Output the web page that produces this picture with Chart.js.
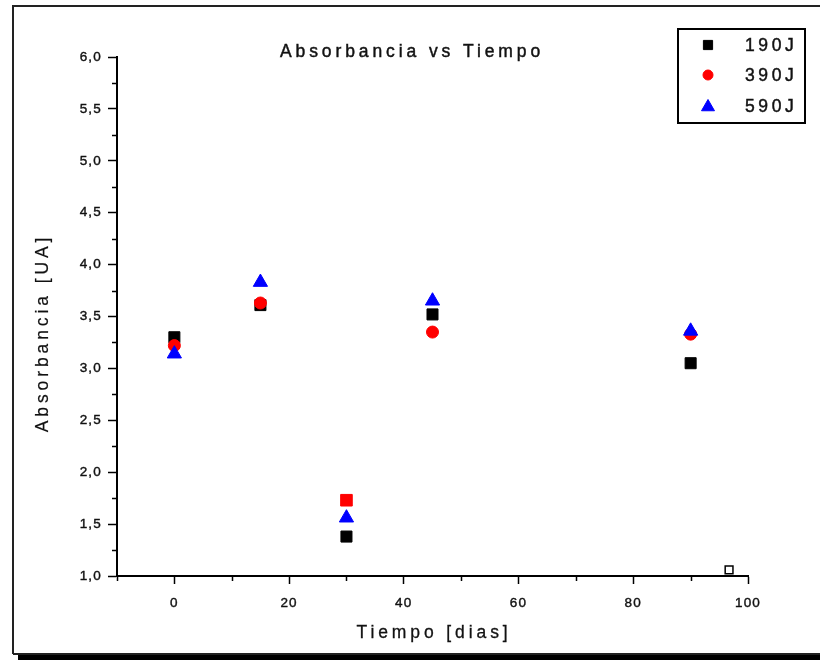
<!DOCTYPE html>
<html>
<head>
<meta charset="utf-8">
<script src="https://cdn.jsdelivr.net/npm/chart.js@4/dist/chart.umd.min.js"></script>
<style>
  html, body { margin: 0; padding: 0; background: #fff; }
  #wrap { width: 820px; height: 660px; }
</style>
</head>
<body>
<div id="wrap"><canvas id="c" width="820" height="660"></canvas></div>
<script>
// ---- data ----
const xDays   = [0, 15, 30, 45, 90];
const abs190  = [3.30, 3.61, 1.38, 3.52, 3.05];
const abs390  = [3.22, 3.63, 1.73, 3.35, 3.33];
const abs590  = [3.14, 3.83, 1.56, 3.65, 3.36];
const strayX  = [96.7];
const strayY  = [1.06];
const seriesNames = ['190J', '390J', '590J'];
const xMajorTicks = [0, 20, 40, 60, 80, 100];
const xMinorTicks = [-10, 10, 30, 50, 70, 90];
const yMajorTicks = [1.0, 1.5, 2.0, 2.5, 3.0, 3.5, 4.0, 4.5, 5.0, 5.5, 6.0];
const yTickLabels = ['1,0', '1,5', '2,0', '2,5', '3,0', '3,5', '4,0', '4,5', '5,0', '5,5', '6,0'];
const yMinorTicks = [1.25, 1.75, 2.25, 2.75, 3.25, 3.75, 4.25, 4.75, 5.25, 5.75];
const chartTitle = 'Absorbancia vs Tiempo';
const xTitle = 'Tiempo [dias]';
const yTitle = 'Absorbancia [UA]';

const pts = (xs, ys) => xs.map((x, i) => ({ x: x, y: ys[i] }));
const FONT = "'Liberation Sans', Arial, sans-serif";

const styles = [
  { pointStyle: 'rect', radius: 7.8, color: '#000000' },
  { pointStyle: ['circle', 'circle', 'rect', 'circle', 'circle'], radius: [6, 6, 8.2, 6, 6], color: '#ff0000' },
  { pointStyle: 'triangle', radius: 8.2, color: '#0000ff' }
];
const legendStyles = [
  { pointStyle: 'rect', radius: 6.5, color: '#000000' },
  { pointStyle: 'circle', radius: 5, color: '#ff0000' },
  { pointStyle: 'triangle', radius: 7.5, color: '#0000ff' }
];

function heavyText(ctx, txt, x, y, w) {
  if (w > 0) { ctx.lineWidth = w; ctx.strokeText(txt, x, y); }
  ctx.fillText(txt, x, y);
}

const decor = {
  id: 'decor',
  beforeDraw(chart) {
    const ctx = chart.ctx;
    ctx.save();
    ctx.fillStyle = '#fff';
    ctx.fillRect(0, 0, chart.width, chart.height);
    ctx.restore();
    ctx.letterSpacing = '1.2px';
  },
  afterDraw(chart) {
    const ctx = chart.ctx;
    const xs = chart.scales.x, ys = chart.scales.y;
    ctx.save();
    // frame
    ctx.strokeStyle = '#222';
    ctx.lineWidth = 2;
    ctx.beginPath();
    ctx.moveTo(13, 654); ctx.lineTo(13, 6); ctx.lineTo(820, 6);
    ctx.moveTo(13, 654); ctx.lineTo(820, 654);
    ctx.stroke();
    ctx.fillStyle = '#000';
    ctx.fillRect(18, 655, 802, 5);

    // minor ticks
    ctx.strokeStyle = '#000';
    ctx.lineWidth = 1.5;
    ctx.beginPath();
    xMinorTicks.forEach(v => {
      const px = Math.round(xs.getPixelForValue(v)) + 0.5;
      ctx.moveTo(px, xs.top); ctx.lineTo(px, xs.top + 5);
    });
    yMinorTicks.forEach(v => {
      const py = Math.round(ys.getPixelForValue(v)) + 0.5;
      ctx.moveTo(ys.right, py); ctx.lineTo(ys.right - 5, py);
    });
    ctx.stroke();

    // titles
    ctx.fillStyle = '#111';
    ctx.strokeStyle = '#111';
    ctx.letterSpacing = '3.9px';
    ctx.font = '17.5px ' + FONT;
    ctx.textAlign = 'center';
    ctx.textBaseline = 'middle';
    heavyText(ctx, chartTitle, 412, 52, 0.45);
    heavyText(ctx, xTitle, 434, 633, 0.3);
    ctx.save();
    ctx.translate(43, 333);
    ctx.rotate(-Math.PI / 2);
    heavyText(ctx, yTitle, 0, 0, 0.2);
    ctx.restore();

    // legend box
    ctx.strokeStyle = '#000';
    ctx.lineWidth = 2;
    ctx.strokeRect(678, 29, 127, 94);
    const rows = [45, 75, 106];
    ctx.textAlign = 'left';
    ctx.letterSpacing = '3.6px';
    chart.data.datasets.slice(0, 3).forEach((ds, i) => {
      const st = legendStyles[i];
      ctx.fillStyle = st.color;
      ctx.strokeStyle = st.color;
      ctx.lineWidth = 1;
      Chart.helpers.drawPoint(ctx, { pointStyle: st.pointStyle, radius: st.radius, borderWidth: 1, rotation: 0 }, 708, rows[i] + (st.pointStyle === 'triangle' ? 1 : 0));
      ctx.fillStyle = '#111';
      ctx.strokeStyle = '#111';
      heavyText(ctx, ds.label, 745, rows[i] + 1, 0.45);
    });
    ctx.restore();
  }
};

const tickFont = { family: FONT, size: 13.5 };

new Chart(document.getElementById('c'), {
  type: 'scatter',
  data: {
    datasets: [
      { label: seriesNames[0], data: pts(xDays, abs190), order: 3,
        pointStyle: styles[0].pointStyle, pointRadius: styles[0].radius,
        backgroundColor: styles[0].color, borderColor: styles[0].color, borderWidth: 1 },
      { label: seriesNames[1], data: pts(xDays, abs390), order: 2,
        pointStyle: styles[1].pointStyle, pointRadius: styles[1].radius,
        backgroundColor: styles[1].color, borderColor: styles[1].color, borderWidth: 1 },
      { label: seriesNames[2], data: pts(xDays, abs590), order: 1,
        pointStyle: styles[2].pointStyle, pointRadius: styles[2].radius,
        backgroundColor: styles[2].color, borderColor: styles[2].color, borderWidth: 1 },
      { label: '', data: pts(strayX, strayY), order: 0,
        pointStyle: 'rect', pointRadius: 5.5,
        backgroundColor: '#ffffff', borderColor: '#000000', borderWidth: 1.5 }
    ]
  },
  options: {
    responsive: false,
    animation: false,
    devicePixelRatio: 1,
    layout: { padding: { left: 0, top: 57, right: 72, bottom: 0 } },
    plugins: { legend: { display: false }, title: { display: false }, tooltip: { enabled: false } },
    scales: {
      x: {
        type: 'linear', min: -10, max: 100,
        afterBuildTicks: s => { s.ticks = xMajorTicks.map(v => ({ value: v })); },
        afterFit: s => { s.height = 84; },
        ticks: { color: '#111', font: tickFont, padding: 11, maxRotation: 0, autoSkip: false,
                 textStrokeColor: '#111', textStrokeWidth: 0.4 },
        grid: { drawOnChartArea: false, drawTicks: true, tickLength: 8, tickColor: '#000', tickWidth: 1.5 },
        border: { color: '#000', width: 2 }
      },
      y: {
        type: 'linear', min: 1, max: 6,
        afterBuildTicks: s => { s.ticks = yMajorTicks.map(v => ({ value: v })); },
        afterFit: s => { s.width = 117; },
        ticks: { color: '#111', font: tickFont, padding: 6, autoSkip: false,
                 textStrokeColor: '#111', textStrokeWidth: 0.4,
                 callback: (v, i) => yTickLabels[i] },
        grid: { drawOnChartArea: false, drawTicks: true, tickLength: 9, tickColor: '#000', tickWidth: 1.5 },
        border: { color: '#000', width: 2 }
      }
    }
  },
  plugins: [decor]
});
</script>
</body>
</html>
